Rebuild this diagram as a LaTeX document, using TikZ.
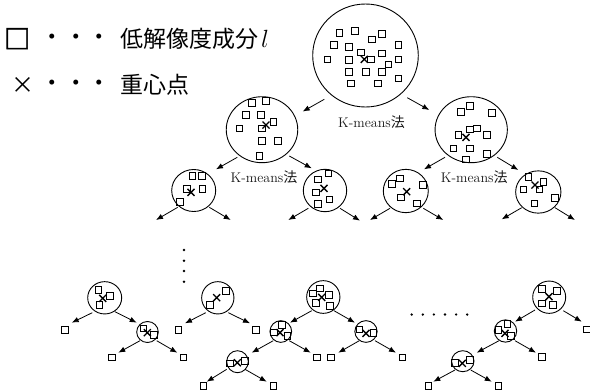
\documentclass[tikz,border=0pt]{standalone}
\usepackage{fontspec}
\newfontfamily\cjk{Noto Sans CJK JP}
\newfontfamily\cjkb[FakeBold=2.5]{Noto Sans CJK JP}
\usetikzlibrary{shapes.geometric,arrows.meta}
\tikzset{
  circ/.style={draw, ellipse, inner sep=0pt, line width=0.9pt},
  sqr/.style={line width=0.85pt},
  crs/.style={line width=1.4pt},
  arr/.style={line width=0.8pt, -{Latex[length=7pt,width=5.5pt]}},
  leaf/.style={draw, rectangle, inner sep=0pt, minimum size=6.5pt, line width=0.85pt},
  km/.style={font=\fontsize{14}{14}\selectfont, text=black!90, inner sep=0pt},
  leg/.style={font=\fontsize{23}{23}\selectfont, inner sep=0pt},
}
\newcommand\cnode[5]{\node[circ, minimum width=#4pt, minimum height=#5pt] (#1) at (#2,#3) {};}
\newcommand\sqs[1]{\foreach \x/\y in {#1} {\draw[sqr] (\x,\y) +(-3.25,-3.25) rectangle +(3.25,3.25);}}
\newcommand\crx[2]{\draw[crs] (#1,#2) +(-3.5,-3.5) -- +(3.5,3.5) +(-3.5,3.5) -- +(3.5,-3.5);}
\newcommand\arw[3]{\coordinate (#1-s) at (#2); \coordinate (#1-e) at (#3); \draw[arr] (#1-s) -- (#1-e);}
\begin{document}
\begin{tikzpicture}[x=1pt,y=-1pt]
\useasboundingbox (0,0) rectangle (590,389);

% legend
\node[leg, font=\cjkb\fontsize{26}{26}\selectfont] (lsq) at (17.2,38.7) {□};
\node[leg, font=\cjk\fontsize{23.5}{23.5}\selectfont, anchor=west] (ld1) at (40.4,39.5) {・・・};
\node[leg, anchor=west] (lt1) at (120,38.5) {{\cjk 低解像度成分}\hspace{3pt}$l$};
\node[leg, font=\cjk\fontsize{23}{23}\selectfont] (lx) at (23.3,85) {×};
\node[leg, font=\cjk\fontsize{23.5}{23.5}\selectfont, anchor=west] (ld2) at (40.4,85.5) {・・・};
\node[leg, anchor=west] (lt2) at (120,84.5) {\cjk 重心点};

% top levels
\cnode{big}{365.5}{55.5}{105.6}{103}
\sqs{339.3/32.7,355/31,371.7/39.3,381.7/34,334/45,349/46.7,360.7/52.3,381.7/53.3,398.3/45,327.3/59.3,349/60,371/59.3,388.3/64.3,398.3/59.3,349/71.7,365.7/71.7,381.7/71.7,398.3/78.3,350.7/83.3,377.7/83.3}
\crx{364.3}{59.3}
\arw{a1}{324.3,99.3}{302.7,111.5}
\arw{a2}{407.3,97.7}{429.3,110}
\node[km] (k1) at (371.5,121.7) {K-means{\cjk 法}};

\cnode{l2a}{262}{129.7}{71.5}{66}
\sqs{251.7/102.7,266/101,246/115,261/115,273.3/121.7,239.3/128.3,261.7/128.3,261.7/141,277.7/141,259.3/156}
\crx{266}{125}
\arw{a3}{237.3,157.3}{216,169.3}
\arw{a4}{289.3,156}{311.7,168.3}
\node[km] (k2) at (264,177.2) {K-means{\cjk 法}};

\cnode{l2b}{471.2}{129.7}{72.3}{66}
\sqs{460.7/111.7,470/105.7,491.7/112.7,470/129.3,476.7/128.3,458.3/135,486.7/135,453.3/148.3,470/148.3,486.7/154,466/159.3}
\crx{466}{137.3}
\arw{a5}{445,157.3}{424,169.3}
\arw{a6}{497.3,157.3}{518.3,170}
\node[km] (k3) at (474.3,177.2) {K-means{\cjk 法}};

% level 3
\cnode{l3a}{193.7}{190.5}{44}{42}
\sqs{192.3/176,201.7/176,186.7/189,202.3/189,180/201.7}
\crx{191}{192.3}
\arw{a7}{177.7,207.3}{156,220}
\arw{a8}{209.3,207.3}{230.7,220}

\cnode{l3b}{325}{190.5}{43.4}{42.4}
\sqs{328.3/173.3,317.7/179.3,316/192.3,329.3/199.3,317.7/204}
\crx{324}{188.3}
\arw{a9}{308.3,208.3}{288.3,220}
\arw{a10}{340,208.3}{360,220.7}

\cnode{l3c}{405.8}{191}{45}{43.3}
\sqs{400/178.3,391.7/184,422.7/185,400.7/197.3,416.7/203.3}
\crx{406.7}{191.7}
\arw{a11}{390,208.3}{370,220}
\arw{a12}{423.3,208.3}{443.3,220}

\cnode{l3d}{538.3}{192}{45.3}{42.3}
\sqs{528.3/176.7,543.3/181.7,523.3/189.3,539.3/189.3,555/197.7,534.3/203.3}
\crx{535}{185}
\arw{a13}{521.7,207.7}{501.7,219.3}
\arw{a14}{555,207.7}{575,220}

% vertical dots
\foreach \y in {250,260.7,271,281.7} \fill (184,\y) circle (1.3pt);
% horizontal dots
\foreach \x in {411.7,422.8,433.9,445,456.1,467.2} \fill (\x,314.5) circle (1.3pt);

% tree A
\cnode{ta1}{104.7}{297.8}{34}{32.3}
\sqs{98.3/290,110/296,99.3/305}
\crx{102.7}{298.3}
\node[leaf] (lfa1) at (65,330) {};
\arw{b1}{92.3,312.7}{71.7,322.7}
\arw{b2}{115,311.7}{136.7,322.7}
\cnode{ta2}{147.5}{332}{21.6}{21}
\sqs{143.3/328.3,154/335}
\crx{147.3}{332.7}
\node[leaf] (lfa2) at (111.7,357.3) {};
\node[leaf] (lfa3) at (183.3,357.3) {};
\arw{b3}{140,340.7}{118.3,352.7}
\arw{b4}{156.7,340.7}{177.3,352.7}

% tree B
\cnode{tb1}{217.8}{297.8}{32.3}{32.3}
\sqs{225.7/290.7,210/305}
\crx{216.7}{297.7}
\node[leaf] (lfb1) at (178.3,330) {};
\node[leaf] (lfb2) at (256,330) {};
\arw{b5}{205.7,312.7}{185,323.3}
\arw{b6}{228.3,312.7}{250,323.3}
\cnode{tb2}{237.5}{361.7}{21.6}{22}
\sqs{230/363.3,245/361}
\crx{237.3}{362.7}
\node[leaf] (lfb3) at (203.3,386) {};
\node[leaf] (lfb4) at (273.3,386) {};
\arw{b7}{226.7,369.3}{206.7,381.7}
\arw{b8}{245,369.3}{266.7,381.7}

% tree C
\cnode{tc1}{323.3}{297}{33.3}{32.7}
\sqs{320/288.3,312.7/293.3,329/295,316/302.7,330/306}
\crx{321.7}{297.3}
\arw{b9}{311.7,310.7}{290,322.7}
\arw{b10}{334,310.7}{355,322.7}
\cnode{tc2}{280.8}{331.5}{21.7}{21.7}
\sqs{281.7/325,274/332.3,287.3/336}
\crx{280}{332.7}
\arw{b11}{273.3,340.7}{251.7,352.7}
\arw{b12}{289.3,340.7}{310.7,352.7}
\node[leaf] (lfc1) at (316.7,357.3) {};
\cnode{tc3}{366}{331.5}{22.3}{21.7}
\sqs{359.3/329.3,373.3/332.7}
\crx{366}{333.3}
\node[leaf] (lfc2) at (331,357.3) {};
\node[leaf] (lfc3) at (402.3,357.3) {};
\arw{b13}{359.3,340.7}{338.3,352.7}
\arw{b14}{375,340.7}{396,352.7}

% tree D
\cnode{td1}{549.2}{297.2}{33}{32.3}
\sqs{541.7/289,556.7/290.7,541.7/303.3,552.7/305}
\crx{549}{296.7}
\node[leaf] (lfd1) at (586.7,329.3) {};
\arw{b15}{535,310}{515,321.7}
\arw{b16}{563.3,310.7}{581.7,321.7}
\cnode{td2}{505.5}{331}{22.4}{22.3}
\sqs{507.3/324,498.3/330,511/336}
\crx{505}{333.3}
\node[leaf] (lfd2) at (541.7,356.7) {};
\arw{b17}{499,340.7}{476.7,352.7}
\arw{b18}{515,340.7}{536,352.7}
\cnode{td3}{462.8}{361.2}{22.4}{21}
\sqs{455/362.7,470/360}
\crx{462.3}{363.3}
\node[leaf] (lfd3) at (428.3,386) {};
\node[leaf] (lfd4) at (498.3,386) {};
\arw{b19}{455,370}{433.3,381.7}
\arw{b20}{470.7,370}{491.7,381.7}
\end{tikzpicture}
\end{document}
